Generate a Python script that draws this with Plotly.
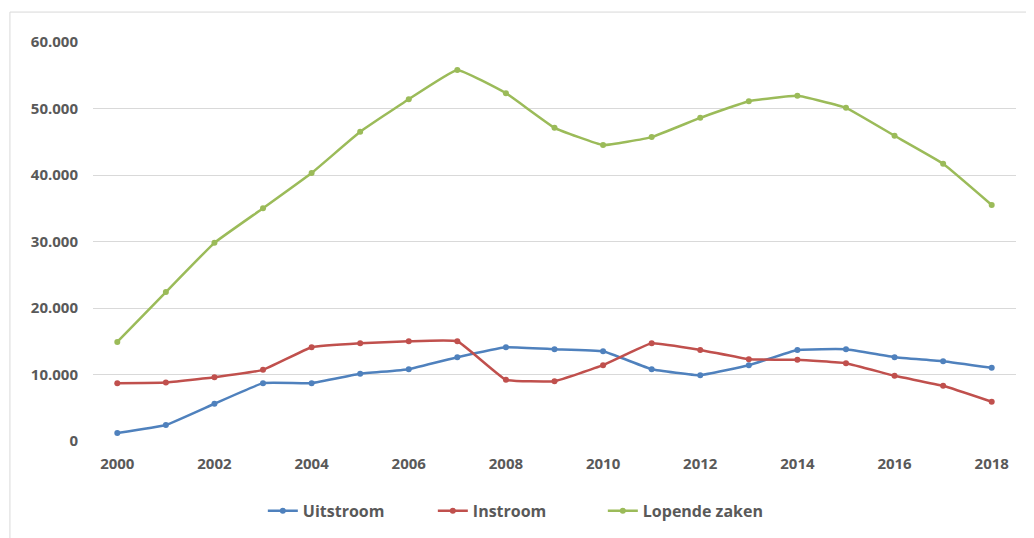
import plotly.graph_objects as go

years = list(range(2000, 2019))

uitstroom = [1200, 2400, 5600, 8700, 8700, 10100, 10800, 12600, 14100, 13800,
             13500, 10800, 9900, 11400, 13700, 13800, 12600, 12000, 11000]
instroom = [8700, 8800, 9600, 10700, 14100, 14700, 15000, 15000, 9200, 9000,
            11400, 14700, 13700, 12300, 12200, 11700, 9800, 8300, 5900]
lopende_zaken = [14900, 22400, 29800, 35000, 40300, 46500, 51400, 55800, 52300, 47100,
                 44500, 45700, 48600, 51100, 51900, 50100, 45900, 41700, 35500]

series = [
    ("Uitstroom", uitstroom, "#4f81bd"),
    ("Instroom", instroom, "#c0504d"),
    ("Lopende zaken", lopende_zaken, "#9bbb59"),
]

fig = go.Figure()
for name, values, color in series:
    fig.add_trace(go.Scatter(
        x=years, y=values, name=name, mode="lines+markers",
        line=dict(color=color, width=2.5, shape="spline", smoothing=0.3),
        marker=dict(color=color, size=6),
    ))

text_font = dict(family="Open Sans, Liberation Sans, sans-serif", color="#595959")

# the page puts the figure 8px in from the top-left corner, so margins compensate
fig.update_layout(
    width=1034, height=538,
    margin=dict(l=85, r=26, t=34, b=105),
    paper_bgcolor="white", plot_bgcolor="white",
    separators=",.",
    font=text_font,
    showlegend=True,
    legend=dict(orientation="h", x=0.184, xanchor="left", y=-0.175, yanchor="middle",
                font=dict(size=16, weight="bold", **text_font),
                entrywidthmode="pixels", entrywidth=125),
    xaxis=dict(range=[1999.5, 2018.5], tickmode="array", tickvals=years[::2],
               showgrid=False, zeroline=False, showline=False, ticks="",
               ticklabelstandoff=12,
               tickfont=dict(size=15, weight="bold", **text_font)),
    yaxis=dict(range=[0, 60000], dtick=10000, tickformat=",d",
               showgrid=True, gridcolor="#d9d9d9", gridwidth=1,
               zeroline=False, showline=False, ticks="",
               ticklabelstandoff=14,
               tickfont=dict(size=15, weight="bold", **text_font)),
)

# light frame around the chart area
fig.add_shape(type="rect", xref="paper", yref="paper",
              x0=-0.09, x1=1.05, y0=-0.3, y1=1.075,
              line=dict(color="#d9d9d9", width=1), layer="below")

fig.write_html("out.html")
